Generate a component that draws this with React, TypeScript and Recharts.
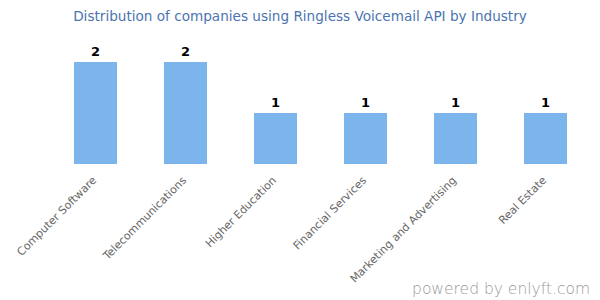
import * as React from 'react';
import { BarChart, Bar, XAxis, YAxis, LabelList } from 'recharts';

const industries = [
    'Computer Software',
    'Telecommunications',
    'Higher Education',
    'Financial Services',
    'Marketing and Advertising',
    'Real Estate',
];
const companyCounts = [2, 2, 1, 1, 1, 1];

const chartTitle = 'Distribution of companies using Ringless Voicemail API by Industry';
const watermark = 'powered by enlyft.com';

const FONT = '"DejaVu Sans", Verdana, sans-serif';

const AngledTick = (props: any) => {
    const { x, y, payload } = props;
    return (
        <g transform={`translate(${x + 2},${y + 9})`}>
            <text
                textAnchor="end"
                transform="rotate(-45)"
                fontSize={11}
                fontFamily={FONT}
                fill="#666"
            >
                {payload.value}
            </text>
        </g>
    );
};

const App = () => {
    const data = industries.map((name, i) => ({ name, count: companyCounts[i] }));
    return (
        <div style={{ position: 'absolute', left: 0, top: 0, width: 600, height: 300 }}>
            <div
                style={{
                    position: 'absolute', left: 0, top: 8, width: 600, textAlign: 'center',
                    fontFamily: FONT, fontSize: 13.6, color: '#4a74b0', lineHeight: '16px',
                }}
            >
                {chartTitle}
            </div>
            <BarChart
                width={600}
                height={300}
                data={data}
                margin={{ top: 62, right: 10, left: 50, bottom: 0 }}
            >
                <XAxis
                    dataKey="name"
                    axisLine={false}
                    tickLine={false}
                    interval={0}
                    height={136}
                    tick={<AngledTick />}
                />
                <YAxis hide domain={[0, 2]} />
                <Bar dataKey="count" fill="#7cb5ec" barSize={43} isAnimationActive={false}>
                    <LabelList
                        dataKey="count"
                        position="top"
                        offset={6}
                        fill="#000"
                        fontSize={13}
                        fontWeight="bold"
                        fontFamily={FONT}
                    />
                </Bar>
            </BarChart>
            <div
                style={{
                    position: 'absolute', right: 10, top: 280,
                    fontFamily: FONT, fontSize: 15.5, fontWeight: 300, color: '#999',
                    lineHeight: '18px',
                }}
            >
                {watermark}
            </div>
        </div>
    );
};

export default App;
